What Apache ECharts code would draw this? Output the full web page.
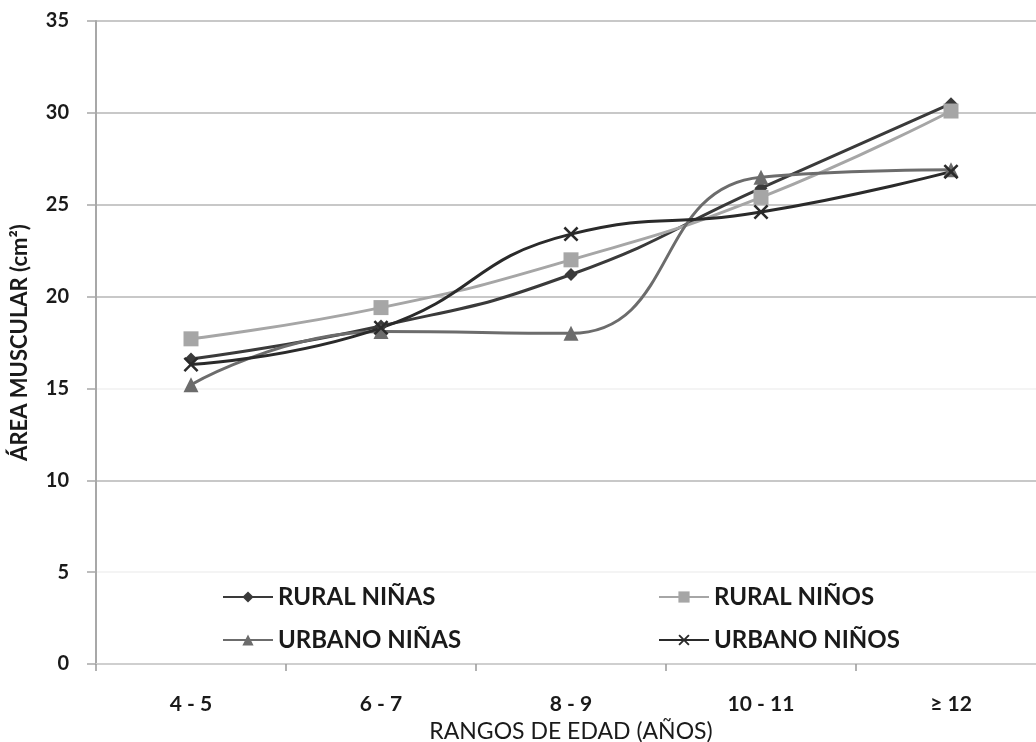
<!DOCTYPE html>
<html>
<head>
<meta charset="utf-8">
<script src="https://cdn.jsdelivr.net/npm/echarts@6/dist/echarts.min.js"></script>
<style>
html,body{margin:0;padding:0;background:#fff;}
#chart{width:1036px;height:742px;}
</style>
</head>
<body>
<div id="chart"></div>
<script>
const categories = ['4 - 5', '6 - 7', '8 - 9', '10 - 11', '≥ 12'];
const ruralNinas = [16.6, 18.4, 21.2, 25.9, 30.5];
const ruralNinos = [17.7, 19.4, 22.0, 25.4, 30.1];
const urbanoNinas = [15.2, 18.1, 18.0, 26.5, 26.9];
const urbanoNinos = [16.3, 18.3, 23.4, 24.6, 26.8];
const yTicks = [0, 5, 10, 15, 20, 25, 30, 35];

const FONT = 'Lato';
const xSym = 'path://M0,1.2L1.2,0L5,3.8L8.8,0L10,1.2L6.2,5L10,8.8L8.8,10L5,6.2L1.2,10L0,8.8L3.8,5Z';

const seriesDefs = [
  {name: 'RURAL NIÑAS', data: ruralNinas, color: '#3a3a3a', symbol: 'diamond', size: 13},
  {name: 'RURAL NIÑOS', data: ruralNinos, color: '#a6a6a6', symbol: 'rect', size: 15},
  {name: 'URBANO NIÑAS', data: urbanoNinas, color: '#6c6c6c', symbol: 'triangle', size: 15},
  {name: 'URBANO NIÑOS', data: urbanoNinos, color: '#2a2a2a', symbol: xSym, size: 15}
];

const legendPos = [
  {left: 222, top: 585},
  {left: 658, top: 585},
  {left: 222, top: 628},
  {left: 658, top: 628}
];

const chart = echarts.init(document.getElementById('chart'));
chart.setOption({
  animation: false,
  backgroundColor: '#fff',
  grid: {left: 96, top: 21, right: -10, bottom: 78, containLabel: false, outerBoundsMode: 'none'},
  legend: seriesDefs.map((s, i) => ({
    data: [s.name],
    left: legendPos[i].left,
    top: legendPos[i].top,
    itemWidth: 50,
    itemHeight: 14,
    itemGap: 2,
    padding: 0,
    textStyle: {fontFamily: FONT, fontWeight: 'bold', fontSize: 24, color: '#1a1a1a', padding: [0, 0, 0, 0]}
  })),
  xAxis: {
    type: 'category',
    data: categories,
    boundaryGap: true,
    name: 'RANGOS DE EDAD (AÑOS)',
    nameLocation: 'middle',
    nameGap: 52,
    nameTextStyle: {fontFamily: FONT, fontSize: 23, color: '#1a1a1a'},
    axisLine: {show: true, lineStyle: {color: '#cfcfcf', width: 2}},
    axisTick: {show: true, length: 7, lineStyle: {color: '#999', width: 1.5}},
    axisLabel: {fontFamily: FONT, fontWeight: 'bold', fontSize: 21, color: '#1a1a1a', margin: 30},
    splitLine: {show: false}
  },
  yAxis: {
    type: 'value',
    min: yTicks[0],
    max: yTicks[yTicks.length - 1],
    interval: 5,
    name: 'ÁREA MUSCULAR (cm²)',
    nameLocation: 'middle',
    nameRotate: 90,
    nameGap: 65,
    nameTextStyle: {fontFamily: FONT, fontWeight: 'bold', fontSize: 22, color: '#1a1a1a'},
    axisLine: {show: true, lineStyle: {color: '#a8a8a8', width: 2}},
    axisTick: {show: true, length: 9, lineStyle: {color: '#a8a8a8', width: 1.5}},
    axisLabel: {fontFamily: FONT, fontWeight: 'bold', fontSize: 20, color: '#1a1a1a', margin: 27},
    splitLine: {show: true, lineStyle: {color: ['#d0d0d0', '#f4f4f4', '#c8c8c8', '#f4f4f4', '#c8c8c8', '#c8c8c8', '#c8c8c8', '#c8c8c8'], width: 2}}
  },
  series: seriesDefs.map(s => ({
    name: s.name,
    type: 'line',
    data: s.data,
    smooth: 0.5,
    symbol: s.symbol,
    symbolSize: s.size,
    lineStyle: {color: s.color, width: 3},
    itemStyle: {color: s.color},
    emphasis: {disabled: true}
  }))
});
</script>
</body>
</html>
